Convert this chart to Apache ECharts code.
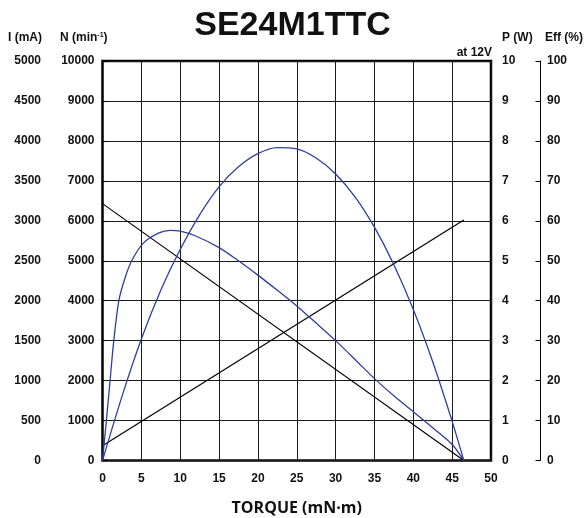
<!DOCTYPE html>
<html>
<head>
<meta charset="utf-8">
<script src="https://cdn.jsdelivr.net/npm/echarts@6/dist/echarts.min.js"></script>
<style>
html,body{margin:0;padding:0;background:#fff;}
#chart{width:585px;height:518px;}
</style>
</head>
<body>
<div id="chart"></div>
<script>
// ---- data ----
const torqueLine = [0, 46.5];                 // mN·m
const speedValues = [6430, 0];                 // min^-1
const currentValues = [185, 3010];             // mA
const effTorque = [0, 0.5, 1, 1.4, 2.1, 2.9, 3.76, 5.26, 7.2, 8.7, 10, 12, 15, 17.5, 20, 22.5, 25, 27.5, 30, 32.5, 35, 37.5, 40, 42.5, 45, 46.5];
const effValues = [0, 10, 20.5, 29, 40, 45.7, 50, 54.4, 56.9, 57.6, 57.4, 56.2, 53.3, 50, 46.4, 42.6, 38.7, 34.4, 30, 25.3, 20.5, 16.2, 12.2, 8.2, 4.0, 0];
const powTorque = [0, 2.5, 5, 7.5, 10, 12.5, 15, 17.5, 20, 22.5, 25, 27.5, 30, 32.5, 35, 37.5, 40, 42.5, 45, 46.5];
const powValues = [0, 1.6, 3.04, 4.26, 5.28, 6.15, 6.85, 7.35, 7.68, 7.83, 7.8, 7.57, 7.17, 6.6, 5.84, 4.9, 3.78, 2.47, 0.98, 0];

const titleText = 'SE24M1TTC';
const xName = 'TORQUE (mN\u00B7m)';
const note = 'at 12V';
const axisNames = {I: 'I (mA)', N: '{a|N (min}{s|-1}{a|)}', P: 'P (W)', Eff: 'Eff (%)'};

const zip = (xs, ys) => xs.map((x, i) => [x, ys[i]]);
const FONT = '"Liberation Sans", Arial, sans-serif';
const BFONT = 'bold 12px "Liberation Sans", Arial, sans-serif';
const lbl = {fontFamily: FONT, fontWeight: 'bold', fontSize: 12, color: '#111', formatter: v => String(v)};
const BLUE = '#2e3f9e';

const chart = echarts.init(document.getElementById('chart'));
chart.setOption({
  animation: false,
  backgroundColor: '#fff',
  title: {
    text: titleText, left: 'center', top: 4,
    textStyle: {fontFamily: FONT, fontWeight: 'bold', fontSize: 34, color: '#111'}
  },
  grid: {left: 102.5, right: 94, top: 61, bottom: 57.5, show: true, borderColor: '#000', borderWidth: 2.5,
    backgroundColor: 'transparent', outerBoundsMode: 'none', containLabel: false},
  xAxis: {
    type: 'value', min: 0, max: 50, interval: 5,
    axisLine: {show: false}, axisTick: {show: false},
    axisLabel: Object.assign({margin: 12}, lbl),
    splitLine: {show: true, lineStyle: {color: '#1a1a1a', width: 1}},
    name: xName, nameLocation: 'middle', nameGap: 40,
    nameTextStyle: {fontFamily: '"Open Sans", Lato, sans-serif', fontWeight: 'bold', fontSize: 16, color: '#111'}
  },
  yAxis: [
    {
      type: 'value', position: 'left', offset: 55.5, min: 0, max: 5000, interval: 500,
      axisLine: {show: true, lineStyle: {color: '#000', width: 1}},
      axisTick: {show: true, inside: true, length: 5, lineStyle: {color: '#000'}},
      axisLabel: Object.assign({margin: 6, padding: [0, 0, 9, 0]}, lbl),
      splitLine: {show: false}
    },
    {
      type: 'value', position: 'left', offset: 0, min: 0, max: 10000, interval: 1000,
      axisLine: {show: false}, axisTick: {show: false},
      axisLabel: Object.assign({margin: 8, padding: [0, 0, 9, 0]}, lbl),
      splitLine: {show: true, lineStyle: {color: '#1a1a1a', width: 1}}
    },
    {
      type: 'value', position: 'right', offset: 0, min: 0, max: 10, interval: 1,
      axisLine: {show: false}, axisTick: {show: false},
      axisLabel: Object.assign({margin: 11, padding: [0, 0, 9, 0]}, lbl),
      splitLine: {show: false}
    },
    {
      type: 'value', position: 'right', offset: 49.5, min: 0, max: 100, interval: 10,
      axisLine: {show: true, lineStyle: {color: '#000', width: 1}},
      axisTick: {show: true, inside: true, length: 5, lineStyle: {color: '#000'}},
      axisLabel: Object.assign({margin: 6.5, padding: [0, 0, 9, 0]}, lbl),
      splitLine: {show: false}
    }
  ],
  graphic: [
    {type: 'text', x: 492, y: 53, style: {text: note, font: BFONT, fill: '#111', align: 'right', verticalAlign: 'middle'}},
    {type: 'text', x: 42, y: 38, style: {text: axisNames.I, font: BFONT, fill: '#111', align: 'right', verticalAlign: 'middle'}},
    {type: 'text', x: 60, y: 38, style: {text: axisNames.N, font: BFONT, fill: '#111', align: 'left', verticalAlign: 'middle',
      rich: {a: {font: BFONT, fill: '#111'}, s: {font: 'bold 7px "Liberation Sans", Arial, sans-serif', fill: '#111', verticalAlign: 'top', padding: [0, 0, 5, 0]}}}},
    {type: 'text', x: 502, y: 38, style: {text: axisNames.P, font: BFONT, fill: '#111', align: 'left', verticalAlign: 'middle'}},
    {type: 'text', x: 545, y: 38, style: {text: axisNames.Eff, font: BFONT, fill: '#111', align: 'left', verticalAlign: 'middle'}}
  ],
  series: [
    {name: 'N', type: 'line', yAxisIndex: 1, data: zip(torqueLine, speedValues), symbol: 'none',
      lineStyle: {color: '#000', width: 1.2}},
    {name: 'I', type: 'line', yAxisIndex: 0, data: zip(torqueLine, currentValues), symbol: 'none',
      lineStyle: {color: '#000', width: 1.2}},
    {name: 'Eff', type: 'line', yAxisIndex: 3, data: zip(effTorque, effValues), symbol: 'none', smooth: 0.3,
      lineStyle: {color: BLUE, width: 1.3}},
    {name: 'P', type: 'line', yAxisIndex: 2, data: zip(powTorque, powValues), symbol: 'none', smooth: 0.3,
      lineStyle: {color: BLUE, width: 1.3}}
  ]
});
</script>
</body>
</html>
